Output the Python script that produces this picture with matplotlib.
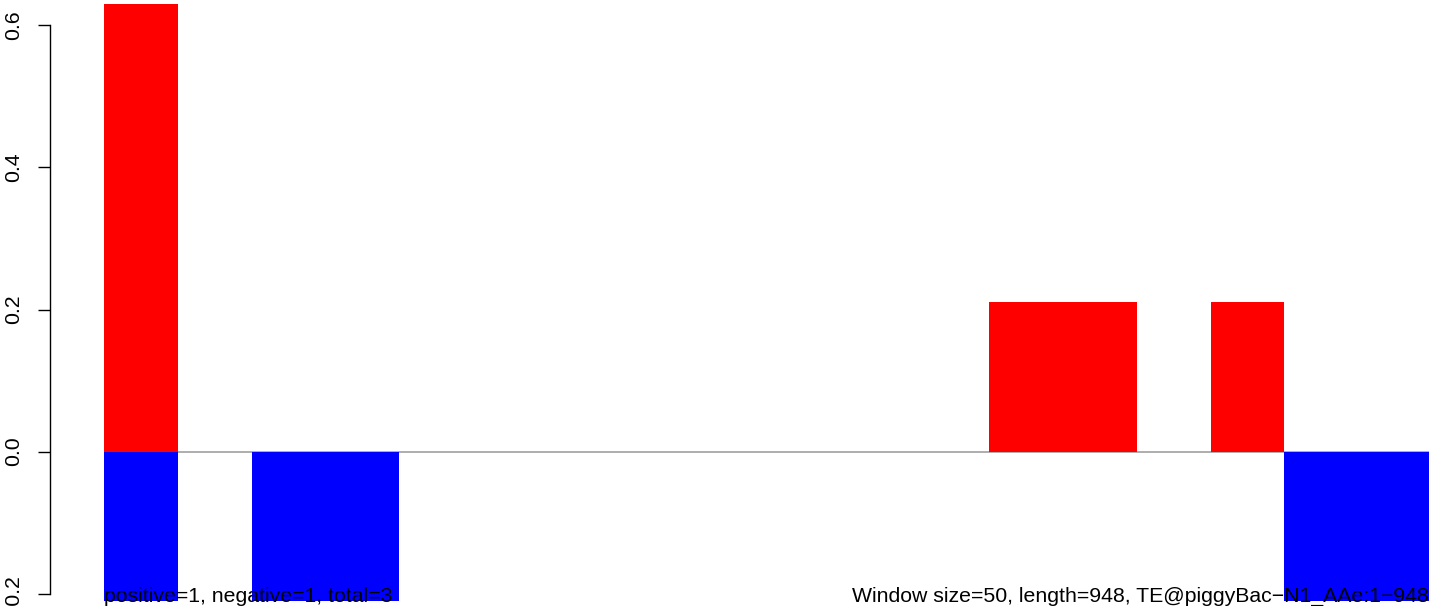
import numpy as np
import matplotlib.pyplot as plt
from matplotlib.transforms import blended_transform_factory

plt.rcParams['font.family'] = ['Liberation Sans', 'DejaVu Sans']

# scores per 50bp window (18 windows)
window = np.arange(18)
pos_score = [0.6316, 0, 0, 0, 0, 0, 0, 0, 0, 0, 0, 0, 0.2105, 0.2105, 0, 0.2105, 0, 0]
neg_score = [-0.2105, 0, -0.2105, -0.2105, 0, 0, 0, 0, 0, 0, 0, 0, 0, 0, 0, 0, -0.2105, -0.2105]
yticks = [-0.2, 0.0, 0.2, 0.4, 0.6]
left_note = "positive=1, negative=1, total=3"
right_note = "Window size=50, length=948, TE@piggyBac\u2212N1_AAe:1\u2212948"

fig = plt.figure(figsize=(14.29, 6.06), dpi=100)
# plot region runs slightly past the right edge of the canvas
ax = fig.add_axes([104 / 1429, 4 / 606, 1328 / 1429, 598 / 606])

ax.axhline(0, color='#a0a0a0', lw=1.2, zorder=1)
ax.bar(window, pos_score, width=1, align='edge', color='red', lw=0, zorder=2)
ax.bar(window, neg_score, width=1, align='edge', color='blue', lw=0, zorder=2)

ax.set_xlim(0, 18)
ax.set_ylim(-0.2118, 0.6302)

for s in ['top', 'right', 'bottom']:
    ax.spines[s].set_visible(False)
# spine sits 54 px left of the plot region
ax.spines['left'].set_position(('outward', 54 * 72 / 100))
ax.spines['left'].set_bounds(-0.2, 0.6)
ax.spines['left'].set_linewidth(1.0)
ax.set_xticks([])
ax.set_yticks(yticks)
ax.set_yticklabels(['%.1f' % v for v in yticks], rotation=90, va='center')
ax.tick_params(axis='y', length=8.6, width=1.0, pad=10.5, labelsize=15.3)

ax.text(0, -0.2118, left_note, ha='left', va='baseline', fontsize=15.3, zorder=3)
tr = blended_transform_factory(fig.transFigure, ax.transData)
ax.text(0.9995, -0.2118, right_note, transform=tr, ha='right', va='baseline',
        fontsize=15.3, zorder=3)

fig.savefig('out.png', dpi=100)
